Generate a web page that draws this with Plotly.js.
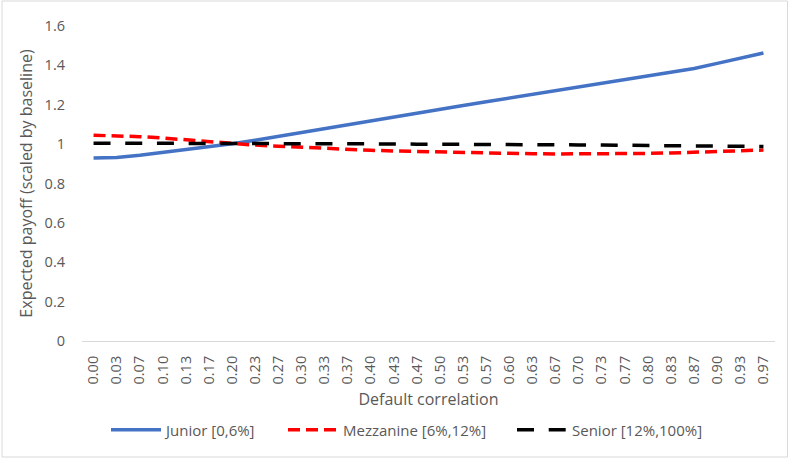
<!DOCTYPE html>
<html>
<head>
<meta charset="utf-8">
<script src="https://cdn.plot.ly/plotly-3.0.1.min.js"></script>
<style>html,body{margin:0;padding:0;background:#fff;}#chart{width:789px;height:459px;}</style>
</head>
<body>
<div id="chart"></div>
<script>
var correlation = ["0.00","0.03","0.07","0.10","0.13","0.17","0.20","0.23","0.27","0.30",
  "0.33","0.37","0.40","0.43","0.47","0.50","0.53","0.57","0.60","0.63",
  "0.67","0.70","0.73","0.77","0.80","0.83","0.87","0.90","0.93","0.97"];
var junior = [0.930,0.932,0.943,0.957,0.972,0.987,1.002,1.020,1.040,1.060,
  1.080,1.099,1.118,1.138,1.157,1.177,1.196,1.215,1.234,1.253,
  1.272,1.292,1.312,1.330,1.348,1.366,1.384,1.410,1.437,1.463];
var mezzanine = [1.045,1.043,1.038,1.031,1.022,1.012,1.000,0.995,0.989,0.983,
  0.978,0.974,0.969,0.965,0.962,0.959,0.956,0.954,0.952,0.951,
  0.950,0.950,0.950,0.951,0.953,0.955,0.958,0.962,0.966,0.970];
var senior = [1.005,1.005,1.005,1.005,1.004,1.003,1.001,1.001,1.001,1.001,
  1.001,1.001,1.001,1.001,1.000,1.000,1.000,0.999,0.999,0.998,
  0.997,0.996,0.995,0.994,0.993,0.992,0.991,0.990,0.989,0.988];
var seriesNames = ["Junior [0,6%]", "Mezzanine [6%,12%]", "Senior [12%,100%]"];
var yTitle = "Expected payoff (scaled by baseline)";
var xTitle = "Default correlation";

var FONT = "Open Sans, sans-serif";
var GREY = "#595959";

var traces = [
  {x: correlation, y: junior, name: seriesNames[0], type: "scatter", mode: "lines",
   line: {color: "#4472C4", width: 3.5}, legend: "legend"},
  {x: correlation, y: mezzanine, name: seriesNames[1], type: "scatter", mode: "lines",
   line: {color: "#FF0000", width: 3.5, dash: "12px,6px"}, legend: "legend2"},
  {x: correlation, y: senior, name: seriesNames[2], type: "scatter", mode: "lines",
   line: {color: "#000000", width: 3.5, dash: "17px,14.7px"}, legend: "legend3"}
];

function leg(px) {
  return {orientation: "h", xref: "container", yref: "container",
    x: px / 789, y: 1 - 430 / 459, xanchor: "left", yanchor: "middle",
    font: {family: FONT, size: 15, color: GREY}, bgcolor: "rgba(0,0,0,0)",
    itemwidth: 50};
}

var layout = {
  width: 789, height: 459,
  margin: {l: 82, r: 14, t: 26, b: 118, pad: 0},
  paper_bgcolor: "#ffffff", plot_bgcolor: "#ffffff",
  font: {family: FONT, color: GREY},
  showlegend: true,
  legend: leg(106),
  legend2: leg(283),
  legend3: leg(512),
  xaxis: {
    type: "category",
    range: [-0.5, correlation.length - 0.5],
    tickangle: -90,
    tickfont: {family: FONT, size: 14.5, color: GREY},
    showgrid: false, zeroline: false,
    showline: true, linecolor: "#D9D9D9", linewidth: 1,
    ticks: "", ticklabelstandoff: 8,
    title: {text: xTitle, font: {family: FONT, size: 16, color: GREY}, standoff: 10}
  },
  yaxis: {
    range: [0, 1.6], dtick: 0.2, tick0: 0,
    tickfont: {family: FONT, size: 14.5, color: GREY},
    showgrid: false, zeroline: false, showline: false,
    ticks: "", ticklabelstandoff: 16,
    title: {text: yTitle, font: {family: FONT, size: 16, color: GREY}, standoff: 8}
  },
  shapes: [{type: "rect", xref: "paper", yref: "paper",
    x0: (2 - 82) / 693, x1: (787.5 - 82) / 693,
    y0: (341 - 457) / 315, y1: (341 - 1) / 315,
    line: {color: "#D9D9D9", width: 1}, fillcolor: "rgba(0,0,0,0)", layer: "below"}]
};

Plotly.newPlot("chart", traces, layout, {displayModeBar: false, staticPlot: true});
</script>
</body>
</html>
